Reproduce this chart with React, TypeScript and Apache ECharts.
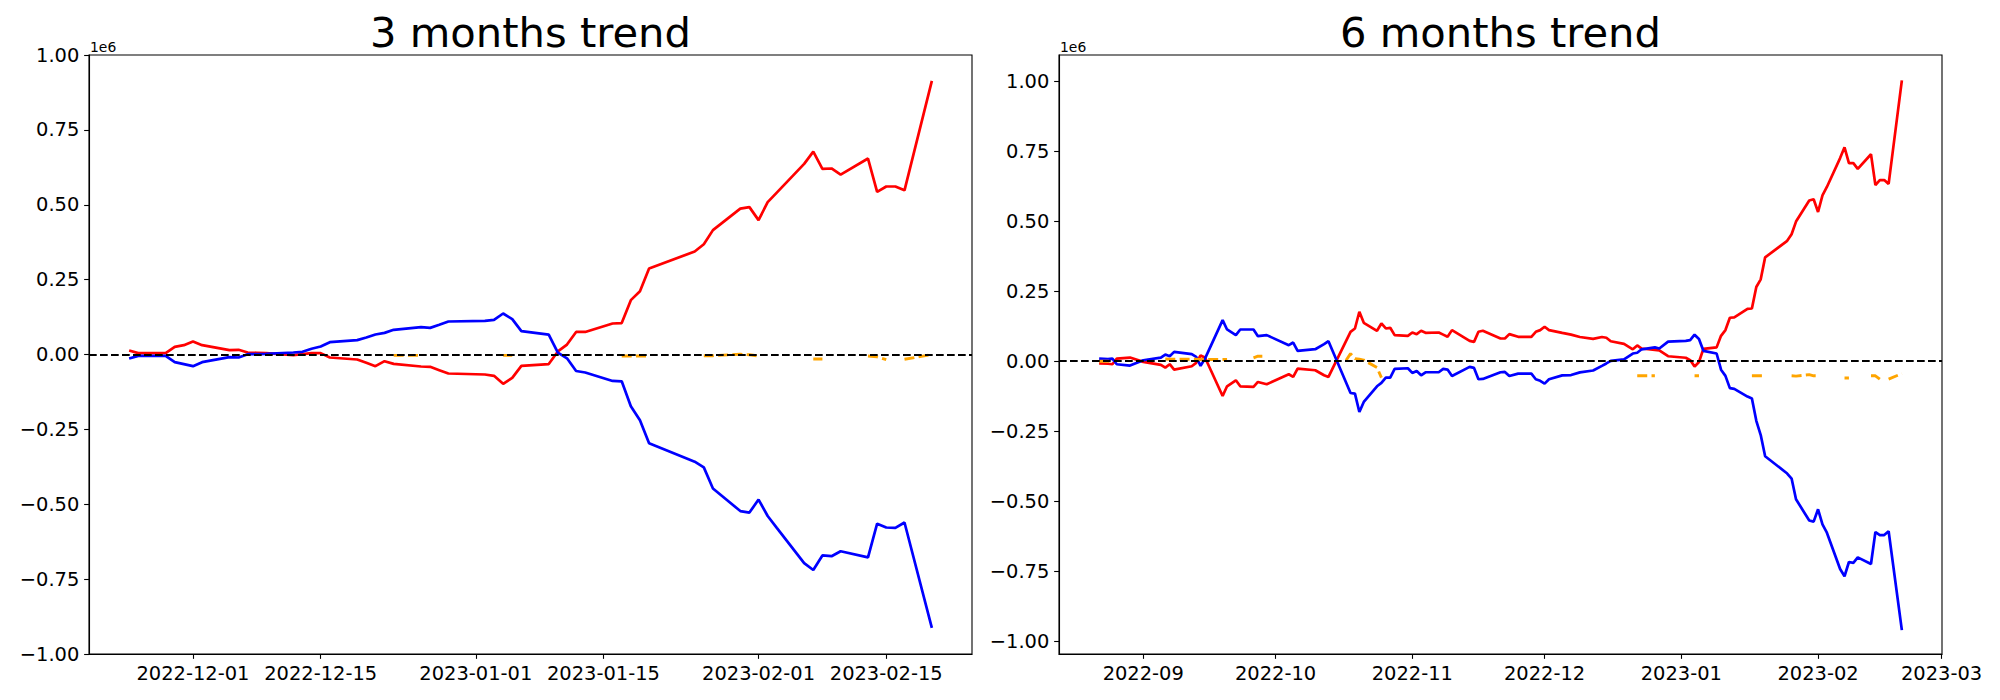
import React, { useEffect, useRef } from "react";
import * as echarts from "echarts";

// ---------- 3 months trend ----------
const L_DATES = [
  "2022-11-24", "2022-11-25", "2022-11-28", "2022-11-29", "2022-11-30", "2022-12-01", "2022-12-02",
  "2022-12-05", "2022-12-06", "2022-12-07", "2022-12-08", "2022-12-09", "2022-12-12", "2022-12-13",
  "2022-12-14", "2022-12-15", "2022-12-16", "2022-12-19", "2022-12-20", "2022-12-21", "2022-12-22",
  "2022-12-23", "2022-12-26", "2022-12-27", "2022-12-28", "2022-12-29", "2023-01-02", "2023-01-03",
  "2023-01-04", "2023-01-05", "2023-01-06", "2023-01-09", "2023-01-10", "2023-01-11", "2023-01-12",
  "2023-01-13", "2023-01-16", "2023-01-17", "2023-01-18", "2023-01-19", "2023-01-20", "2023-01-25",
  "2023-01-26", "2023-01-27", "2023-01-30", "2023-01-31", "2023-02-01", "2023-02-02", "2023-02-03",
  "2023-02-06", "2023-02-07", "2023-02-08", "2023-02-09", "2023-02-10", "2023-02-13", "2023-02-14",
  "2023-02-15", "2023-02-16", "2023-02-17", "2023-02-20",
];
const L_RED = [
  13400, 4500, 4500, 25600, 31200, 43400, 31200,
  14500, 15600, 6700, 5600, 4500, -2200, 1100,
  4500, 4500, -10000, -16700, -27800, -39000, -22300,
  -31200, -40000, -41200, -52300, -63400, -66800, -71200,
  -98000, -78000, -38000, -32000, 10200, 33200, 75400,
  75400, 103500, 104800, 181500, 210900, 287500, 343800,
  368000, 415300, 486900, 492000, 448600, 508600, 540600,
  636400, 677300, 619800, 621100, 600600, 654300, 543100,
  561000, 561000, 548200, 913700,
];
const L_BLUE = [
  -13400, -4500, -4500, -25600, -32300, -39000, -25600,
  -8900, -10000, 1100, 1100, 2200, 6700, 8900,
  19000, 26700, 41200, 47900, 56800, 66800, 72300,
  82400, 91300, 89000, 99100, 110200, 112400, 115800,
  136900, 118000, 78000, 66500, 6400, -12800, -55000,
  -60100, -88200, -89500, -172500, -219800, -296500, -357800,
  -377000, -447300, -522700, -527800, -484300, -539300, -579000,
  -696500, -719500, -670900, -673500, -656900, -677300, -564900,
  -577600, -578900, -561000, -912500,
];
const L_ORANGE_DATES = [
  "2022-12-23", "2022-12-26", "2022-12-27", "2023-01-04", "2023-01-05", "2023-01-06",
  "2023-01-17", "2023-01-18", "2023-01-19", "2023-01-20", "2023-01-23",
  "2023-01-26", "2023-01-27", "2023-01-30", "2023-01-31", "2023-02-01", "2023-02-02",
  "2023-02-07", "2023-02-08", "2023-02-09", "2023-02-13", "2023-02-14", "2023-02-15",
  "2023-02-16", "2023-02-17", "2023-02-20",
];
const L_ORANGE = [
  -3000, -3000, null, -3000, -3000, null,
  -5000, -5000, -5000, -5000, null,
  -4000, -4000, 1000, -1000, -5000, null,
  -15000, -15000, null, -5000, -8000, -17000,
  null, -16000, 0,
];
const L_XTICKS = ["2022-12-01", "2022-12-15", "2023-01-01", "2023-01-15", "2023-02-01", "2023-02-15"];

// ---------- 6 months trend ----------
const R_DATES = [
  "2022-08-22", "2022-08-24", "2022-08-25", "2022-08-26", "2022-08-29", "2022-09-01", "2022-09-05",
  "2022-09-06", "2022-09-07", "2022-09-08", "2022-09-12", "2022-09-13", "2022-09-14", "2022-09-15",
  "2022-09-19", "2022-09-20", "2022-09-22", "2022-09-23", "2022-09-26", "2022-09-27", "2022-09-29",
  "2022-10-04", "2022-10-05", "2022-10-06", "2022-10-10", "2022-10-12", "2022-10-13", "2022-10-18",
  "2022-10-19", "2022-10-20", "2022-10-21", "2022-10-24", "2022-10-25", "2022-10-26", "2022-10-27",
  "2022-10-28", "2022-10-31", "2022-11-01", "2022-11-02", "2022-11-03", "2022-11-04", "2022-11-07",
  "2022-11-08", "2022-11-09", "2022-11-10", "2022-11-14", "2022-11-15", "2022-11-16", "2022-11-17",
  "2022-11-21", "2022-11-22", "2022-11-23", "2022-11-25", "2022-11-28", "2022-11-29", "2022-11-30",
  "2022-12-01", "2022-12-02", "2022-12-05", "2022-12-07", "2022-12-09", "2022-12-12", "2022-12-14",
  "2022-12-15", "2022-12-16", "2022-12-19", "2022-12-21", "2022-12-22", "2022-12-23", "2022-12-26",
  "2022-12-27", "2022-12-29", "2023-01-02", "2023-01-03", "2023-01-04", "2023-01-05", "2023-01-06",
  "2023-01-09", "2023-01-10", "2023-01-11", "2023-01-12", "2023-01-13", "2023-01-16", "2023-01-17",
  "2023-01-18", "2023-01-19", "2023-01-20", "2023-01-25", "2023-01-26", "2023-01-27", "2023-01-30",
  "2023-01-31", "2023-02-01", "2023-02-02", "2023-02-03", "2023-02-06", "2023-02-07", "2023-02-08",
  "2023-02-09", "2023-02-10", "2023-02-13", "2023-02-14", "2023-02-15", "2023-02-16", "2023-02-17",
  "2023-02-20",
];
const R_RED = [
  -8000, -9000, -10700, 9500, 13000, -2400, -13000,
  -22700, -10700, -29800, -17900, -6000, 20300, 13100,
  -124100, -89500, -68000, -89500, -91900, -74000, -82300,
  -46500, -56100, -26200, -32200, -50100, -56100, 105000,
  116900, 176600, 137200, 108600, 134800, 116900, 119300,
  93100, 90700, 102600, 96600, 108600, 101400, 102600,
  95000, 87100, 111000, 72800, 69200, 105000, 108600,
  81100, 81100, 96600, 87100, 87100, 105000, 111000,
  122900, 111000, 101100, 95000, 86500, 79600, 86500,
  83800, 71400, 61800, 42600, 56300, 45300, 40000,
  38400, 17800, 12400, 4100, -19200, -2700, 43900,
  49400, 90600, 111200, 155100, 156500, 186700, 188100,
  265000, 292400, 370700, 429700, 453100, 498400, 573900,
  578000, 532700, 591800, 622000, 725000, 763400, 707100,
  707100, 686500, 738700, 628800, 646700, 646700, 633000,
  1002300,
];
const R_BLUE = [
  9500, 7200, 9500, -10700, -15500, 3600, 13100,
  23900, 17900, 33400, 25100, 15500, -16700, 9500,
  146700, 113300, 93100, 113300, 113300, 89500, 93100,
  57300, 66800, 37000, 42900, 60800, 71600, -113300,
  -115700, -181300, -145500, -89500, -77500, -58500, -58500,
  -27400, -25100, -41800, -34600, -50100, -39400, -39400,
  -27400, -29800, -52500, -20300, -23900, -64400, -63200,
  -39400, -38200, -52500, -44100, -44100, -64400, -70000,
  -79900, -64400, -50600, -49300, -39800, -33000, -16500,
  -8000, 1400, 6900, 27500, 30200, 42600, 49400,
  45300, 70000, 72800, 75500, 94700, 79600, 37100,
  27500, -30200, -52200, -96100, -98900, -126300, -133200,
  -212800, -263600, -339100, -400900, -418800, -492900, -568400,
  -572500, -528600, -582200, -612000, -741400, -767500, -716700,
  -719500, -700200, -723600, -609600, -620600, -620600, -606900,
  -959700,
];
const R_ORANGE_DATES = [
  "2022-08-22", "2022-08-25", "2022-08-26",
  "2022-09-06", "2022-09-07", "2022-09-08", "2022-09-12", "2022-09-13", "2022-09-14", "2022-09-15",
  "2022-09-19", "2022-09-20", "2022-09-21",
  "2022-09-26", "2022-09-27", "2022-09-28", "2022-09-29",
  "2022-10-17", "2022-10-18", "2022-10-19", "2022-10-20", "2022-10-21", "2022-10-24", "2022-10-25",
  "2022-10-26",
  "2022-12-22", "2022-12-23", "2022-12-26", "2022-12-27",
  "2023-01-04", "2023-01-05", "2023-01-06",
  "2023-01-17", "2023-01-18", "2023-01-19", "2023-01-20", "2023-01-23",
  "2023-01-26", "2023-01-27", "2023-01-30", "2023-01-31", "2023-02-01", "2023-02-02",
  "2023-02-07", "2023-02-08", "2023-02-09",
  "2023-02-13", "2023-02-14", "2023-02-15", "2023-02-16",
  "2023-02-17", "2023-02-20",
];
const R_ORANGE = [
  0, 0, null,
  8000, 7000, 7000, 7000, 7000, 6000, 6000,
  6000, 6000, null,
  12000, 18000, 18000, null,
  3600, 27000, 9500, 7000, 4000, -22700, -58500,
  null,
  -52000, -52000, -52000, null,
  -52000, -52000, null,
  -52000, -52000, -52000, -52000, null,
  -52000, -53000, -48000, -52000, -52000, null,
  -60000, -60000, null,
  -52000, -52000, -64000, null,
  -64000, -44000,
];
const R_XTICKS = ["2022-09-01", "2022-10-01", "2022-11-01", "2022-12-01", "2023-01-01", "2023-02-01", "2023-03-01"];

const Y_TICKS = [-1e6, -0.75e6, -0.5e6, -0.25e6, 0, 0.25e6, 0.5e6, 0.75e6, 1e6];

const FONT = "DejaVu Sans";

function toTs(s: string): number {
  const [y, m, d] = s.split("-").map(Number);
  return new Date(y, m - 1, d).getTime();
}
function pairs(dates: string[], vals: (number | null)[]) {
  return dates.map((d, i) => [toTs(d), vals[i] === null ? "-" : vals[i]]);
}
const pad = (n: number) => (n < 10 ? "0" + n : "" + n);
const fmtDay = (v: number) => {
  const d = new Date(v);
  return d.getFullYear() + "-" + pad(d.getMonth() + 1) + "-" + pad(d.getDate());
};
const fmtMonth = (v: number) => {
  const d = new Date(v);
  return d.getFullYear() + "-" + pad(d.getMonth() + 1);
};
const fmtY = (v: number) => {
  const s = (Math.abs(v) / 1e6).toFixed(2);
  return v < -1 ? "\u2212" + s : s;
};

export default function App() {
  const ref = useRef<HTMLDivElement>(null);
  useEffect(() => {
    if (!ref.current) return;
    const chart = echarts.init(ref.current, undefined, { renderer: "svg" });

    const GL = [89, 1059];
    const GT = 55;
    const GW = 883;
    const GH = 599;

    const xRanges = [
      [new Date(2022, 10, 19, 14, 24).getTime(), new Date(2023, 1, 24, 9, 36).getTime()],
      [new Date(2022, 7, 12, 21, 36).getTime(), new Date(2023, 2, 1, 2, 24).getTime()],
    ];
    const yRanges = [
      [-1e6, 1e6],
      [-1.045e6, 1.093e6],
    ];
    const xTicks = [L_XTICKS.map(toTs), R_XTICKS.map(toTs)];
    const fmts = [fmtDay, fmtMonth];

    const axisCommon = {
      scale: true,
      splitLine: { show: false },
      axisLine: { show: true, onZero: false, lineStyle: { color: "#000", width: 1.1 } },
    };

    const xAxis = [0, 1].map((i) => ({
      type: "value",
      gridIndex: i,
      min: xRanges[i][0],
      max: xRanges[i][1],
      ...axisCommon,
      axisTick: { show: true, length: 4.86, lineStyle: { color: "#000", width: 1.1 }, customValues: xTicks[i] },
      axisLabel: {
        customValues: xTicks[i],
        formatter: fmts[i],
        color: "#000",
        fontSize: 19.44,
        fontFamily: FONT,
        margin: 9.7,
        hideOverlap: false,
      },
    }));
    const yAxis = [0, 1].map((i) => ({
      type: "value",
      gridIndex: i,
      min: yRanges[i][0],
      max: yRanges[i][1],
      ...axisCommon,
      axisTick: { show: true, length: 4.86, lineStyle: { color: "#000", width: 1.1 }, customValues: Y_TICKS },
      axisLabel: {
        customValues: Y_TICKS,
        formatter: fmtY,
        color: "#000",
        fontSize: 19.44,
        fontFamily: FONT,
        margin: 9.7,
      },
    }));

    const lineSeries = (i: number, data: any[], color: string, width: number, z: number, dashed = false) => ({
      type: "line",
      xAxisIndex: i,
      yAxisIndex: i,
      data,
      showSymbol: false,
      symbol: "none",
      connectNulls: false,
      z,
      lineStyle: { color, width, type: dashed ? [10, 4.3] : "solid", cap: "butt" },
      emphasis: { disabled: true },
    });

    const zeroLine = (i: number) => ({
      type: "line",
      xAxisIndex: i,
      yAxisIndex: i,
      data: [],
      z: 10,
      markLine: {
        silent: true,
        symbol: ["none", "none"],
        label: { show: false },
        lineStyle: { color: "#000", width: 2.08, type: [7.7, 3.3] },
        data: [{ yAxis: 0 }],
      },
    });

    const series = [
      lineSeries(0, pairs(L_DATES, L_RED), "#ff0000", 2.7, 2),
      lineSeries(0, pairs(L_DATES, L_BLUE), "#0000ff", 2.7, 3),
      lineSeries(0, pairs(L_ORANGE_DATES, L_ORANGE), "#ffa500", 2.9, 4, true),
      zeroLine(0),
      lineSeries(1, pairs(R_DATES, R_RED), "#ff0000", 2.7, 2),
      lineSeries(1, pairs(R_DATES, R_BLUE), "#0000ff", 2.7, 3),
      lineSeries(1, pairs(R_ORANGE_DATES, R_ORANGE), "#ffa500", 2.9, 4, true),
      zeroLine(1),
    ];

    const titles = ["3 months trend", "6 months trend"];
    const graphic: any[] = [];
    [0, 1].forEach((i) => {
      graphic.push({
        type: "text",
        x: GL[i] + GW / 2,
        y: 32,
        style: {
          text: titles[i],
          fontSize: 41.67,
          fontFamily: FONT,
          fill: "#000",
          textAlign: "center",
          textVerticalAlign: "middle",
        },
      });
      graphic.push({
        type: "text",
        x: GL[i] + 1,
        y: 46.5,
        style: {
          text: "1e6",
          fontSize: 13.9,
          fontFamily: FONT,
          fill: "#000",
          textAlign: "left",
          textVerticalAlign: "middle",
        },
      });
    });

    chart.setOption({
      animation: false,
      backgroundColor: "#fff",
      textStyle: { fontFamily: FONT },
      grid: [0, 1].map((i) => ({
        left: GL[i],
        top: GT,
        width: GW,
        height: GH,
        show: true,
        borderColor: "#000",
        borderWidth: 1.1,
        backgroundColor: "transparent",
        containLabel: false,
      })),
      xAxis,
      yAxis,
      series,
      graphic,
    });
    return () => chart.dispose();
  }, []);
  return (
    <div
      ref={ref}
      style={{ position: "fixed", left: 0, top: 0, width: "2000px", height: "700px", background: "#fff" }}
    />
  );
}
